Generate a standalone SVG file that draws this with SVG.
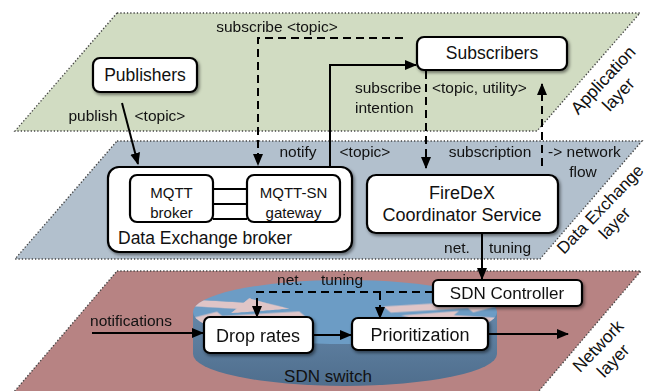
<svg xmlns="http://www.w3.org/2000/svg" xmlns:xlink="http://www.w3.org/1999/xlink" width="651" height="391" viewBox="0 0 651 391">
<style>
.layer{stroke:#444;stroke-width:1.4;stroke-dasharray:1.3,2}
.box{fill:#fff;stroke:#000;stroke-width:2.2}
.t{font-family:"Liberation Sans",Arial,sans-serif;fill:#111}
.lbl{font-size:15.5px}
.ln{fill:none;stroke:#000;stroke-width:2}
.dash{stroke-dasharray:8,5}
</style>
<defs>
<marker id="ah" markerUnits="userSpaceOnUse" markerWidth="12" markerHeight="12" viewBox="0 0 12 12" refX="11" refY="6" orient="auto"><path d="M0,1 L12,6 L0,11 Z" fill="#000"/></marker>
<filter id="sh" x="-10%" y="-10%" width="130%" height="140%"><feDropShadow dx="1.5" dy="2" stdDeviation="1.5" flood-color="#000" flood-opacity="0.45"/></filter>
<linearGradient id="side" x1="0" y1="0" x2="0" y2="1"><stop offset="0" stop-color="#6486a8"/><stop offset="1" stop-color="#4f6e8d"/></linearGradient>
<path id="arr" d="M0,-10 L55,-10 L55,-24 L90,0 L55,24 L55,10 L0,10 Z"/>
<clipPath id="topclip"><ellipse cx="345" cy="312" rx="152" ry="32"/></clipPath>
</defs>

<g id="application-layer">
<polygon class="layer" points="117,13 640,13 537,131 15,131" fill="#d1dcc2"/>
<text class="t" font-size="17.5" text-anchor="middle" transform="translate(603,80) rotate(-47)"><tspan x="0" y="6">Application</tspan><tspan x="0" y="27">layer</tspan></text>
</g>
<g id="data-exchange-layer">
<polygon class="layer" points="117,141 642,141 540,259 15,259" fill="#b2c0cd"/>
<text class="t" font-size="17" text-anchor="middle" transform="translate(600,209) rotate(-46)"><tspan x="0" y="6">Data Exchange</tspan><tspan x="0" y="26">layer</tspan></text>
</g>
<g id="network-layer">
<polygon class="layer" points="117,271 641,271 538,392 14,392" fill="#b78383"/>
<text class="t" font-size="17.5" text-anchor="middle" transform="translate(598,346) rotate(-46)"><tspan x="0" y="6">Network</tspan><tspan x="0" y="27">layer</tspan></text>
</g>

<g id="sdn-switch">
<path d="M193,312 V354 A152,32 0 0 0 497,354 V312 Z" fill="url(#side)"/>
<ellipse cx="345" cy="312" rx="152" ry="32" fill="#6c9cc5"/>
<g clip-path="url(#topclip)" fill="#e6c8c8" opacity="0.95">
<g transform="translate(345,312) scale(1.45,0.32)">
<use xlink:href="#arr" transform="rotate(-165) translate(130,0) rotate(180)"/>
<use xlink:href="#arr" transform="rotate(15) translate(130,0) rotate(180)"/>
<use xlink:href="#arr" transform="rotate(-15) translate(30,0)"/>
<use xlink:href="#arr" transform="rotate(165) translate(30,0)"/>
</g>
</g>
<text class="t" font-size="17" text-anchor="middle" x="328" y="382">SDN switch</text>
</g>

<g id="publishers">
<rect class="box" x="93" y="58" width="104" height="34" rx="7" filter="url(#sh)"/>
<text class="t" font-size="17.5" text-anchor="middle" x="145" y="81">Publishers</text>
</g>
<g id="subscribers">
<rect class="box" x="417" y="37" width="150" height="33" rx="7" filter="url(#sh)"/>
<text class="t" font-size="17.5" text-anchor="middle" x="492" y="59">Subscribers</text>
</g>
<g id="data-exchange-broker">
<rect class="box" x="108" y="167" width="244" height="85" rx="11" filter="url(#sh)"/>
<text class="t" font-size="17.5" x="118" y="244">Data Exchange broker</text>
</g>
<g id="mqtt-broker">
<rect class="box" x="130" y="175" width="83" height="47" rx="7"/>
<text class="t" font-size="15" text-anchor="middle" x="171.5" y="198">MQTT</text>
<text class="t" font-size="15" text-anchor="middle" x="171.5" y="218">broker</text>
</g>
<g id="mqtt-sn-gateway">
<rect class="box" x="247" y="175" width="93" height="47" rx="7"/>
<text class="t" font-size="15" text-anchor="middle" x="293.5" y="198">MQTT-SN</text>
<text class="t" font-size="15" text-anchor="middle" x="293.5" y="218">gateway</text>
</g>
<g id="firedex-coordinator">
<rect class="box" x="367" y="175" width="191" height="58" rx="9" filter="url(#sh)"/>
<text class="t" font-size="18" text-anchor="middle" x="462" y="199">FireDeX</text>
<text class="t" font-size="18" text-anchor="middle" x="462" y="221">Coordinator Service</text>
</g>
<g id="sdn-controller">
<rect class="box" x="433" y="280" width="149" height="26" rx="5" filter="url(#sh)"/>
<text class="t" font-size="17" text-anchor="middle" x="507" y="299">SDN Controller</text>
</g>
<g id="drop-rates">
<rect class="box" x="204" y="317" width="109" height="36" rx="6" filter="url(#sh)"/>
<text class="t" font-size="18" text-anchor="middle" x="258" y="342">Drop rates</text>
</g>
<g id="prioritization">
<rect class="box" x="352" y="318" width="136" height="32" rx="6" filter="url(#sh)"/>
<text class="t" font-size="18" text-anchor="middle" x="420" y="341">Prioritization</text>
</g>

<g id="connectors">
<path class="ln" d="M213,189 H247 M213,204 H247 M213,219 H247" stroke-width="1.8"/>
<path class="ln" d="M122,103 L138,164" marker-end="url(#ah)"/>
<path class="ln dash" d="M403,38 H258 V165" marker-end="url(#ah)"/>
<path class="ln" d="M330,167 V65 H416" marker-end="url(#ah)"/>
<path class="ln dash" d="M426,71 V168" marker-end="url(#ah)"/>
<path class="ln dash" d="M542,166 V84" marker-end="url(#ah)"/>
<path class="ln" d="M482,234 V279" marker-end="url(#ah)"/>
<path class="ln dash" d="M433,292 H257 V317" marker-end="url(#ah)"/>
<path class="ln dash" d="M380,292 V318" marker-end="url(#ah)"/>
<path class="ln" d="M92,333 H203" marker-end="url(#ah)"/>
<path class="ln" d="M313,335 H351" marker-end="url(#ah)"/>
<path class="ln" d="M488,334 H568" marker-end="url(#ah)"/>
</g>

<g id="labels" class="t lbl">
<text x="93" y="121" text-anchor="middle">publish</text>
<text x="160" y="121" text-anchor="middle">&lt;topic&gt;</text>
<text x="277" y="32" text-anchor="middle">subscribe &lt;topic&gt;</text>
<text x="298" y="157" text-anchor="middle">notify</text>
<text x="365" y="157" text-anchor="middle">&lt;topic&gt;</text>
<text x="355" y="93">subscribe</text>
<text x="355" y="113">intention</text>
<text x="432" y="93">&lt;topic, utility&gt;</text>
<text x="490" y="157" text-anchor="middle">subscription</text>
<text x="548" y="157">-&gt; network</text>
<text x="583" y="177" text-anchor="middle">flow</text>
<text x="457" y="253" text-anchor="middle">net.</text>
<text x="510" y="253" text-anchor="middle">tuning</text>
<text x="290" y="285" text-anchor="middle">net.</text>
<text x="342" y="285" text-anchor="middle">tuning</text>
<text x="131" y="326" text-anchor="middle">notifications</text>
</g>
</svg>
